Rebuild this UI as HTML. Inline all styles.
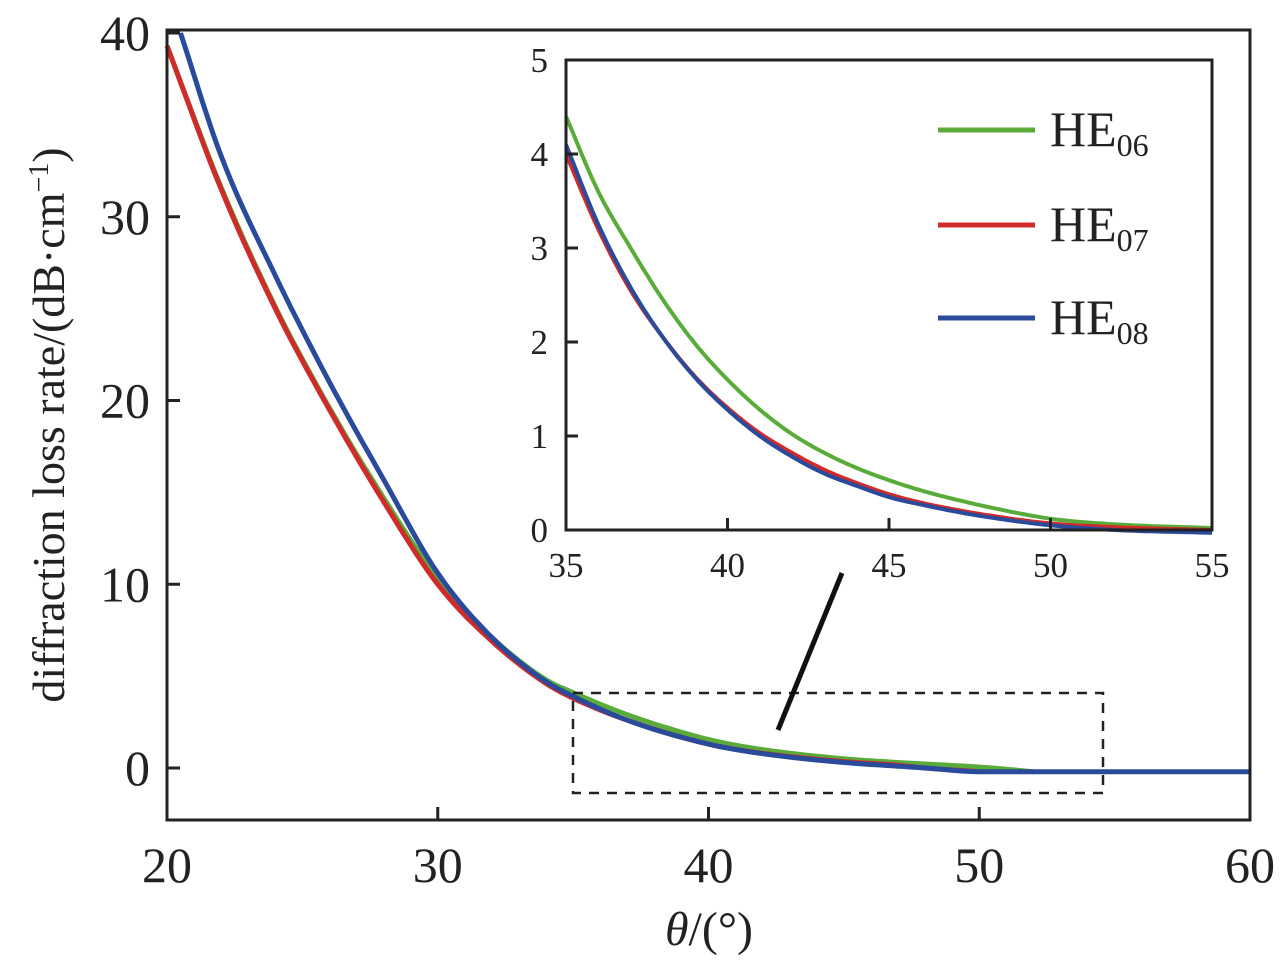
<!DOCTYPE html>
<html><head><meta charset="utf-8"><style>
body{margin:0;background:#fff;}
svg{display:block;}
svg text{font-family:"Liberation Serif","Times New Roman",serif;}
</style></head><body>
<svg id="chart" width="1280" height="961" viewBox="0 0 1280 961">
<g id="main"></g><g id="inset"></g>
</svg>
<script>
const mainXTicks=[20,30,40,50,60];
const mainYTicks=[0,10,20,30,40];
const insetXTicks=[35,40,45,50,55];
const insetYTicks=[0,1,2,3,4,5];
const seriesNames=["HE06","HE07","HE08"];
const seriesColors=["#5aac3a","#d02a2a","#2a4a9c"];
const greenX=[20,22,24,26,28,30,32,34,35,37,40,42,45,47,50,52];
const greenY=[39.3,31.6,25.1,19.6,14.7,10.3,7.1,4.8,4.1,2.9,1.55,1.0,0.5,0.3,0.05,-0.2];
const redX=[20,22,24,26,28,30,32,34,35,37,40,42,45,47,48,50];
const redY=[39.3,31.5,25,19.5,14.5,10,6.9,4.6,3.8,2.6,1.3,0.8,0.35,0.15,0.0,-0.2];
const blueX=[20.5,22,24,26,28,30,32,34,35,37,40,42,45,47,48,50,60];
const blueY=[40,33.3,26.8,21,15.7,10.6,7.1,4.7,3.9,2.6,1.3,0.78,0.3,0.1,0.0,-0.2,-0.2];
const insGreenX=[35,36,37,38,39,40,41,42,43,44,45,46,47,48,50,52,55];
const insGreenY=[4.4,3.6,3.0,2.45,1.98,1.6,1.28,1.02,0.82,0.66,0.53,0.42,0.33,0.25,0.12,0.06,0.02];
const insRedX=[35,36,37,38,39,40,41,42,43,44,45,46,47,48,50,52,55];
const insRedY=[4.0,3.2,2.55,2.05,1.63,1.3,1.03,0.82,0.64,0.5,0.38,0.29,0.22,0.16,0.07,0.03,0.0];
const insBlueX=[35,36,37,38,39,40,41,42,43,44,45,46,47,48,50,52,55];
const insBlueY=[4.1,3.25,2.58,2.05,1.62,1.28,1.0,0.78,0.6,0.47,0.35,0.27,0.2,0.14,0.05,0.0,-0.03];

const NS="http://www.w3.org/2000/svg";
function mk(tag,attrs,parent){const e=document.createElementNS(NS,tag);for(const k in attrs)e.setAttribute(k,attrs[k]);parent.appendChild(e);return e;}
const main=document.getElementById('main'),inset=document.getElementById('inset');
const mx=v=>167+(v-20)*(1250-167)/40, my=v=>768-v*(768-33)/40;
const ix=v=>566+(v-35)*(1212-566)/20, iy=v=>530-v*(530-60)/5;
// monotone cubic interpolation path
function path(xs,ys,fx,fy){
 const n=xs.length,d=[],m=[];
 for(let i=0;i<n-1;i++)d.push((ys[i+1]-ys[i])/(xs[i+1]-xs[i]));
 for(let i=0;i<n;i++){
  if(i===0)m.push(d[0]);else if(i===n-1)m.push(d[n-2]);
  else m.push(d[i-1]*d[i]<=0?0:(d[i-1]+d[i])/2);
 }
 for(let i=0;i<n-1;i++){
  if(d[i]===0){m[i]=0;m[i+1]=0;continue;}
  const a=m[i]/d[i],b=m[i+1]/d[i],s=a*a+b*b;
  if(s>9){const t=3/Math.sqrt(s);m[i]=t*a*d[i];m[i+1]=t*b*d[i];}
 }
 let p='M'+fx(xs[0]).toFixed(1)+','+fy(ys[0]).toFixed(1);
 for(let i=0;i<n-1;i++){
  const h=xs[i+1]-xs[i];
  for(let k=1;k<=10;k++){
   const t=k/10,t2=t*t,t3=t2*t;
   const y=(2*t3-3*t2+1)*ys[i]+(t3-2*t2+t)*h*m[i]+(-2*t3+3*t2)*ys[i+1]+(t3-t2)*h*m[i+1];
   p+='L'+fx(xs[i]+t*h).toFixed(1)+','+fy(y).toFixed(1);
  }
 }
 return p;
}
[[greenX,greenY],[redX,redY],[blueX,blueY]].forEach((s,i)=>{
 const p=mk('path',{d:path(s[0],s[1],mx,my),fill:'none',stroke:seriesColors[i],'stroke-width':5,'stroke-linejoin':'round'},main);
 
 
});
const frame=mk('rect',{x:167,y:30,width:1083,height:790,fill:'none',stroke:'#222','stroke-width':3},main);


mainXTicks.forEach(v=>{
 mk('line',{x1:mx(v),x2:mx(v),y1:820,y2:807,stroke:'#222','stroke-width':3},main);
 const t=mk('text',{x:mx(v),y:882,'text-anchor':'middle','font-size':50,fill:'#222'},main);
 t.textContent=v;
 
 
});
mainYTicks.forEach(v=>{
 mk('line',{x1:167,x2:180,y1:my(v),y2:my(v),stroke:'#222','stroke-width':3},main);
 const t=mk('text',{x:150,y:my(v)+17,'text-anchor':'end','font-size':50,fill:'#222'},main);
 t.textContent=v;
 
 
});
const xt=mk('text',{x:709,y:945,'text-anchor':'middle','font-size':48,fill:'#222'},main);
xt.innerHTML='<tspan font-style="italic">θ</tspan>/(°)';


const yt=mk('text',{x:0,y:0,'text-anchor':'middle','font-size':46,fill:'#222',transform:'translate(64,425) rotate(-90)'},main);
yt.innerHTML='diffraction loss rate/(dB·cm<tspan font-size="28" dy="-16">−1</tspan><tspan dy="16">)</tspan>';


const dr=mk('rect',{x:573,y:693,width:530,height:100,fill:'none',stroke:'#222','stroke-width':2.5,'stroke-dasharray':'10,8'},main);


const ar=mk('line',{x1:842,y1:573,x2:778,y2:730,stroke:'#111','stroke-width':5},main);


const bg=mk('rect',{x:566,y:60,width:646,height:470,fill:'#fff'},inset);


[[insGreenX,insGreenY],[insRedX,insRedY],[insBlueX,insBlueY]].forEach((s,i)=>{
 const p=mk('path',{d:path(s[0],s[1],ix,iy),fill:'none',stroke:seriesColors[i],'stroke-width':4,'stroke-linejoin':'round'},inset);
 
 
});
const iframe=mk('rect',{x:566,y:60,width:646,height:470,fill:'none',stroke:'#222','stroke-width':3},inset);


insetXTicks.forEach(v=>{
 mk('line',{x1:ix(v),x2:ix(v),y1:530,y2:518,stroke:'#222','stroke-width':3},inset);
 const t=mk('text',{x:ix(v),y:577,'text-anchor':'middle','font-size':35,fill:'#222'},inset);
 t.textContent=v;
 
 
});
insetYTicks.forEach(v=>{
 mk('line',{x1:566,x2:578,y1:iy(v),y2:iy(v),stroke:'#222','stroke-width':3},inset);
 const t=mk('text',{x:548,y:iy(v)+12,'text-anchor':'end','font-size':35,fill:'#222'},inset);
 t.textContent=v;
 
 
});
const legY=[130,225,318];
seriesNames.forEach((n,i)=>{
 const g=mk('g',{},inset);
 
 
 mk('line',{x1:938,x2:1035,y1:legY[i],y2:legY[i],stroke:seriesColors[i],'stroke-width':5},g);
 const t=mk('text',{x:1050,y:legY[i]+16,'font-size':50,fill:'#222'},g);
 t.innerHTML='HE<tspan font-size="32" dy="10">'+n.slice(2)+'</tspan>';
});
</script>
</body></html>
